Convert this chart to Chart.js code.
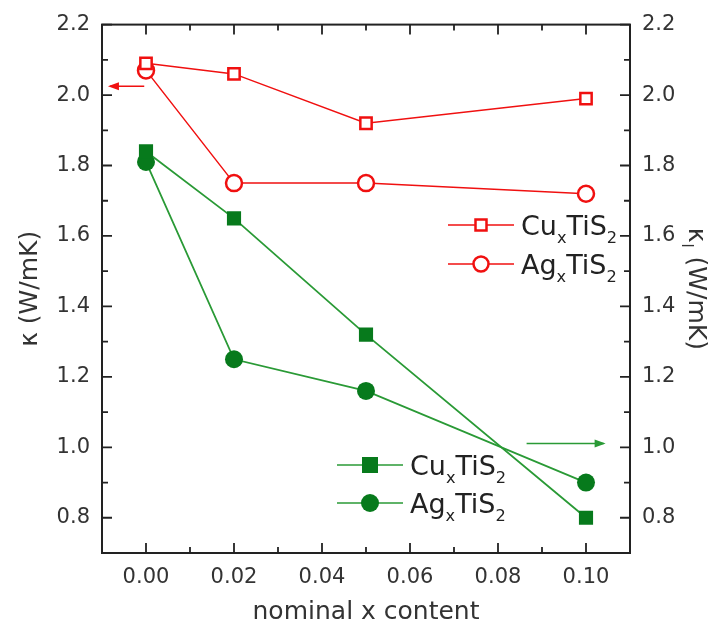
<!doctype html>
<html>
<head>
<title>Thermal conductivity</title>
<script src="https://cdn.jsdelivr.net/npm/chart.js@4.4.0/dist/chart.umd.min.js"></script>
<style>
  body { margin: 0; background: #fff; }
  #wrap { width: 723px; height: 633px; }
</style>
</head>
<body>
<div id="wrap"><canvas id="chart"></canvas></div>
<script>
// values
var xContent = [0.00, 0.02, 0.05, 0.10];
var kappaCu = [2.09, 2.06, 1.92, 1.99];   // total kappa, Cu_xTiS2 (open squares)
var kappaAg = [2.07, 1.75, 1.75, 1.72];   // total kappa, Ag_xTiS2 (open circles)
var kappaLCu = [1.84, 1.65, 1.32, 0.80];  // lattice kappa, Cu_xTiS2 (filled squares)
var kappaLAg = [1.81, 1.25, 1.16, 0.90];  // lattice kappa, Ag_xTiS2 (filled circles)
var xTicks = [0.00, 0.02, 0.04, 0.06, 0.08, 0.10];
var yTicks = [0.8, 1.0, 1.2, 1.4, 1.6, 1.8, 2.0, 2.2];

var RED = '#f01010';
var GREEN_LINE = '#2a9a36';
var GREEN = '#077a1c';
var FONT = '"DejaVu Sans", sans-serif';

function pts(ys) {
    return xContent.map(function (x, i) { return { x: x, y: ys[i] }; });
}

// text with subscripts: parts = [[text, isSub], ...]
function richText(ctx, x, y, parts, size) {
    ctx.textAlign = 'left';
    ctx.textBaseline = 'alphabetic';
    parts.forEach(function (p) {
        var s = p[1] ? size * 0.6 : size;
        ctx.font = s + 'px ' + FONT;
        ctx.fillText(p[0], x, p[1] ? y + size * 0.3 : y);
        x += ctx.measureText(p[0]).width;
    });
}

function marker(ctx, style, x, y, color, filled) {
    ctx.save();
    ctx.fillStyle = color;
    ctx.strokeStyle = color;
    ctx.lineWidth = 2.5;
    ctx.beginPath();
    if (style === 'rect') {
        var h = filled ? 8 : 5.5;
        ctx.rect(x - h, y - h, 2 * h, 2 * h);
    } else {
        ctx.arc(x, y, filled ? 9 : 7.5, 0, Math.PI * 2);
    }
    if (filled) ctx.fill(); else { ctx.fillStyle = '#fff'; ctx.fill(); ctx.stroke(); }
    ctx.restore();
}

function arrow(ctx, x1, y1, x2, y2, color) {
    ctx.save();
    ctx.strokeStyle = color;
    ctx.fillStyle = color;
    ctx.lineWidth = 1.5;
    ctx.beginPath();
    ctx.moveTo(x1, y1);
    ctx.lineTo(x2, y2);
    ctx.stroke();
    var d = x2 > x1 ? 1 : -1;
    ctx.beginPath();
    ctx.moveTo(x2 + d * 2, y2);
    ctx.lineTo(x2 - d * 9, y2 - 4);
    ctx.lineTo(x2 - d * 9, y2 + 4);
    ctx.closePath();
    ctx.fill();
    ctx.restore();
}

var decorations = {
    id: 'decorations',
    afterDraw: function (chart) {
        var ctx = chart.ctx;
        var a = chart.chartArea;
        var xs = chart.scales.x, ys = chart.scales.y;

        ctx.save();
        // frame
        ctx.strokeStyle = '#222';
        ctx.lineWidth = 2;
        ctx.strokeRect(a.left, a.top, a.right - a.left, a.bottom - a.top);

        // inward ticks, major and minor
        ctx.lineWidth = 1.8;
        ctx.beginPath();
        for (var v = -0.01; v <= 0.1101; v += 0.01) {
            var r = Math.round(v * 100);
            if (r < 0 || r > 10) continue;
            var px = xs.getPixelForValue(r / 100);
            var len = r % 2 === 0 ? 10 : 6;
            ctx.moveTo(px, a.bottom); ctx.lineTo(px, a.bottom - len);
            ctx.moveTo(px, a.top); ctx.lineTo(px, a.top + len);
        }
        for (var k = 8; k <= 22; k++) {
            var py = ys.getPixelForValue(k / 10);
            var l2 = k % 2 === 0 ? 10 : 6;
            ctx.moveTo(a.left, py); ctx.lineTo(a.left + l2, py);
            ctx.moveTo(a.right, py); ctx.lineTo(a.right - l2, py);
        }
        ctx.stroke();

        // axis titles
        ctx.fillStyle = '#333';
        ctx.font = '25px ' + FONT;
        ctx.textAlign = 'center';
        ctx.textBaseline = 'middle';
        ctx.fillText('nominal x content', (a.left + a.right) / 2, 612);

        ctx.save();
        ctx.translate(30, (a.top + a.bottom) / 2);
        ctx.rotate(-Math.PI / 2);
        ctx.fillText('\u03ba (W/mK)', 0, 0);
        ctx.restore();

        ctx.save();
        ctx.translate(695, (a.top + a.bottom) / 2);
        ctx.rotate(Math.PI / 2);
        ctx.font = '25px ' + FONT;
        var w1 = ctx.measureText('\u03ba').width;
        var w3 = ctx.measureText(' (W/mK)').width;
        ctx.font = '15px ' + FONT;
        var w2 = ctx.measureText('l').width + 2;
        var start = -(w1 + w2 + w3) / 2;
        ctx.textBaseline = 'middle';
        ctx.textAlign = 'left';
        ctx.font = '25px ' + FONT;
        ctx.fillText('\u03ba', start, 0);
        ctx.font = '15px ' + FONT;
        ctx.fillText('l', start + w1 + 1, 9);
        ctx.font = '25px ' + FONT;
        ctx.fillText(' (W/mK)', start + w1 + w2, 0);
        ctx.restore();

        // arrows pointing to the axes
        arrow(ctx, xs.getPixelForValue(-0.0004), ys.getPixelForValue(2.025),
                   xs.getPixelForValue(-0.0082), ys.getPixelForValue(2.025), RED);
        arrow(ctx, xs.getPixelForValue(0.0865), ys.getPixelForValue(1.011),
                   xs.getPixelForValue(0.1040), ys.getPixelForValue(1.011), GREEN_LINE);

        // legends
        var legends = [
            { y: 225, x0: 448, color: RED, line: RED, style: 'rect', filled: false, name: 'Cu' },
            { y: 264, x0: 448, color: RED, line: RED, style: 'circle', filled: false, name: 'Ag' },
            { y: 465, x0: 337, color: GREEN, line: GREEN_LINE, style: 'rect', filled: true, name: 'Cu' },
            { y: 503, x0: 337, color: GREEN, line: GREEN_LINE, style: 'circle', filled: true, name: 'Ag' }
        ];
        legends.forEach(function (g) {
            ctx.strokeStyle = g.line;
            ctx.lineWidth = 1.5;
            ctx.beginPath();
            ctx.moveTo(g.x0, g.y); ctx.lineTo(g.x0 + 66, g.y);
            ctx.stroke();
            marker(ctx, g.style, g.x0 + 33, g.y, g.color, g.filled);
            ctx.fillStyle = '#222';
            richText(ctx, g.x0 + 73, g.y + 10,
                [[g.name, false], ['x', true], ['TiS', false], ['2', true]], 27);
        });
        ctx.restore();
    }
};

var tickFont = { family: FONT, size: 21 };

new Chart(document.getElementById('chart'), {
    type: 'scatter',
    data: {
        datasets: [
            { label: 'CuxTiS2 kappa', data: pts(kappaCu), showLine: true, borderColor: RED, borderWidth: 1.5,
              pointStyle: 'rect', pointRadius: 8, pointBorderWidth: 2.5, pointBorderColor: RED, pointBackgroundColor: '#fff' },
            { label: 'AgxTiS2 kappa', data: pts(kappaAg), showLine: true, borderColor: RED, borderWidth: 1.5,
              pointStyle: 'circle', pointRadius: 8, pointBorderWidth: 2.5, pointBorderColor: RED, pointBackgroundColor: '#fff' },
            { label: 'CuxTiS2 kappa_l', data: pts(kappaLCu), showLine: true, borderColor: GREEN_LINE, borderWidth: 1.8,
              pointStyle: 'rect', pointRadius: 10, pointBorderWidth: 0, pointBackgroundColor: GREEN },
            { label: 'AgxTiS2 kappa_l', data: pts(kappaLAg), showLine: true, borderColor: GREEN_LINE, borderWidth: 1.8,
              pointStyle: 'circle', pointRadius: 9, pointBorderWidth: 0, pointBackgroundColor: GREEN }
        ]
    },
    options: {
        responsive: true,
        maintainAspectRatio: false,
        animation: false,
        layout: { padding: { top: 22, left: 0, right: 0, bottom: 0 } },
        plugins: { legend: { display: false }, tooltip: { enabled: false } },
        scales: {
            x: {
                type: 'linear', min: -0.01, max: 0.11,
                afterBuildTicks: function (s) { s.ticks = xTicks.map(function (v) { return { value: v }; }); },
                afterFit: function (s) { s.height = 80; },
                grid: { display: false, drawTicks: false },
                border: { display: false },
                ticks: { font: tickFont, color: '#333', padding: 12,
                         callback: function (v) { return v.toFixed(2); } }
            },
            y: {
                position: 'left', min: 0.7, max: 2.2,
                afterBuildTicks: function (s) { s.ticks = yTicks.map(function (v) { return { value: v }; }); },
                afterFit: function (s) { s.width = 102; },
                grid: { display: false, drawTicks: false },
                border: { display: false },
                ticks: { font: tickFont, color: '#333', padding: 12,
                         callback: function (v) { return v.toFixed(1); } }
            },
            y2: {
                position: 'right', min: 0.7, max: 2.2,
                afterBuildTicks: function (s) { s.ticks = yTicks.map(function (v) { return { value: v }; }); },
                afterFit: function (s) { s.width = 93; },
                grid: { display: false, drawTicks: false },
                border: { display: false },
                ticks: { font: tickFont, color: '#333', padding: 12,
                         callback: function (v) { return v.toFixed(1); } }
            }
        }
    },
    plugins: [decorations]
});
</script>
</body>
</html>
